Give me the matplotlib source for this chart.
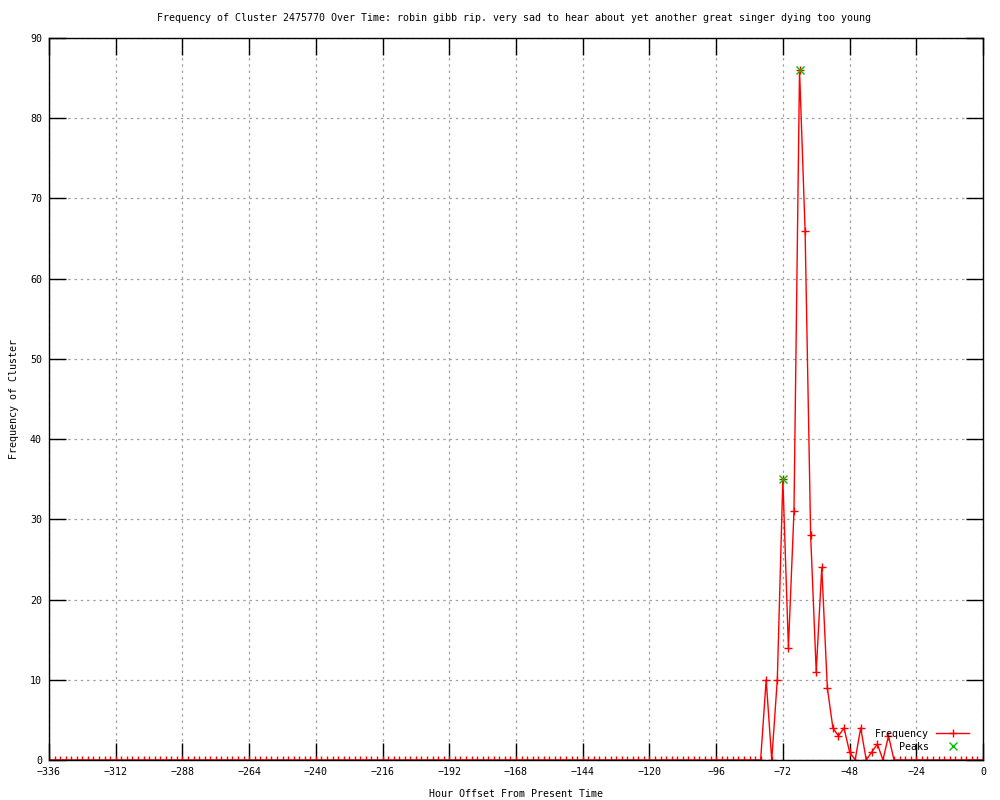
import numpy as np
import matplotlib
matplotlib.use("Agg")
import matplotlib.pyplot as plt

# hour offsets, every 2 hours from -336 to 0
hours = list(range(-336, 1, 2))

# non-zero counts (everything else is 0)
nonzero = {
    -78: 10, -74: 10, -72: 35, -70: 14, -68: 31, -66: 86, -64: 66,
    -62: 28, -60: 11, -58: 24, -56: 9, -54: 4, -52: 3, -50: 4,
    -48: 1, -44: 4, -40: 1, -38: 2, -34: 3,
}
freq = [nonzero.get(h, 0) for h in hours]

peak_hours = [-72, -66]
peak_vals = [35, 86]

xticks = list(range(-336, 1, 24))
yticks = list(range(0, 91, 10))

title = ("Frequency of Cluster 2475770 Over Time: robin gibb rip. very sad to hear "
         "about yet another great singer dying too young")

plt.rcParams['font.family'] = ['DejaVu Sans Mono']
fs = 7.2

fig = plt.figure(figsize=(10, 8), dpi=100)
ax = fig.add_axes([0.049, 0.05, 0.934, 0.9025])

ax.plot(hours, freq, color='red', lw=1, marker='+', ms=6, mew=1,
        label='Frequency')
ax.plot(peak_hours, peak_vals, ls='none', color='#00c000', marker='x',
        ms=5.5, mew=1, label='Peaks')

ax.set_xlim(-336, 0)
ax.set_ylim(0, 90)
ax.set_xticks(xticks)
ax.set_yticks(yticks)
ax.set_xticklabels([str(t).replace('-', '\u2212') if t else '0' for t in xticks])
ax.tick_params(direction='in', length=12, width=1, labelsize=fs,
               top=True, right=True, pad=5)
ax.grid(True, color='#a0a0a0', ls=(0, (2, 3)), lw=0.9)
for sp in ax.spines.values():
    sp.set_linewidth(1)

ax.set_xlabel('Hour Offset From Present Time', fontsize=fs, labelpad=9)
ax.set_ylabel('Frequency of Cluster', fontsize=fs, labelpad=8)
fig.text(0.514, 0.977, title, fontsize=fs, ha='center', va='center')

ax.legend(loc='lower right', bbox_to_anchor=(0.974, 0.054),
          bbox_transform=fig.transFigure, frameon=False, markerfirst=False,
          fontsize=fs, handlelength=3.3, labelspacing=0.3, borderpad=0,
          handletextpad=0.7)

fig.savefig('out.png', dpi=100)
